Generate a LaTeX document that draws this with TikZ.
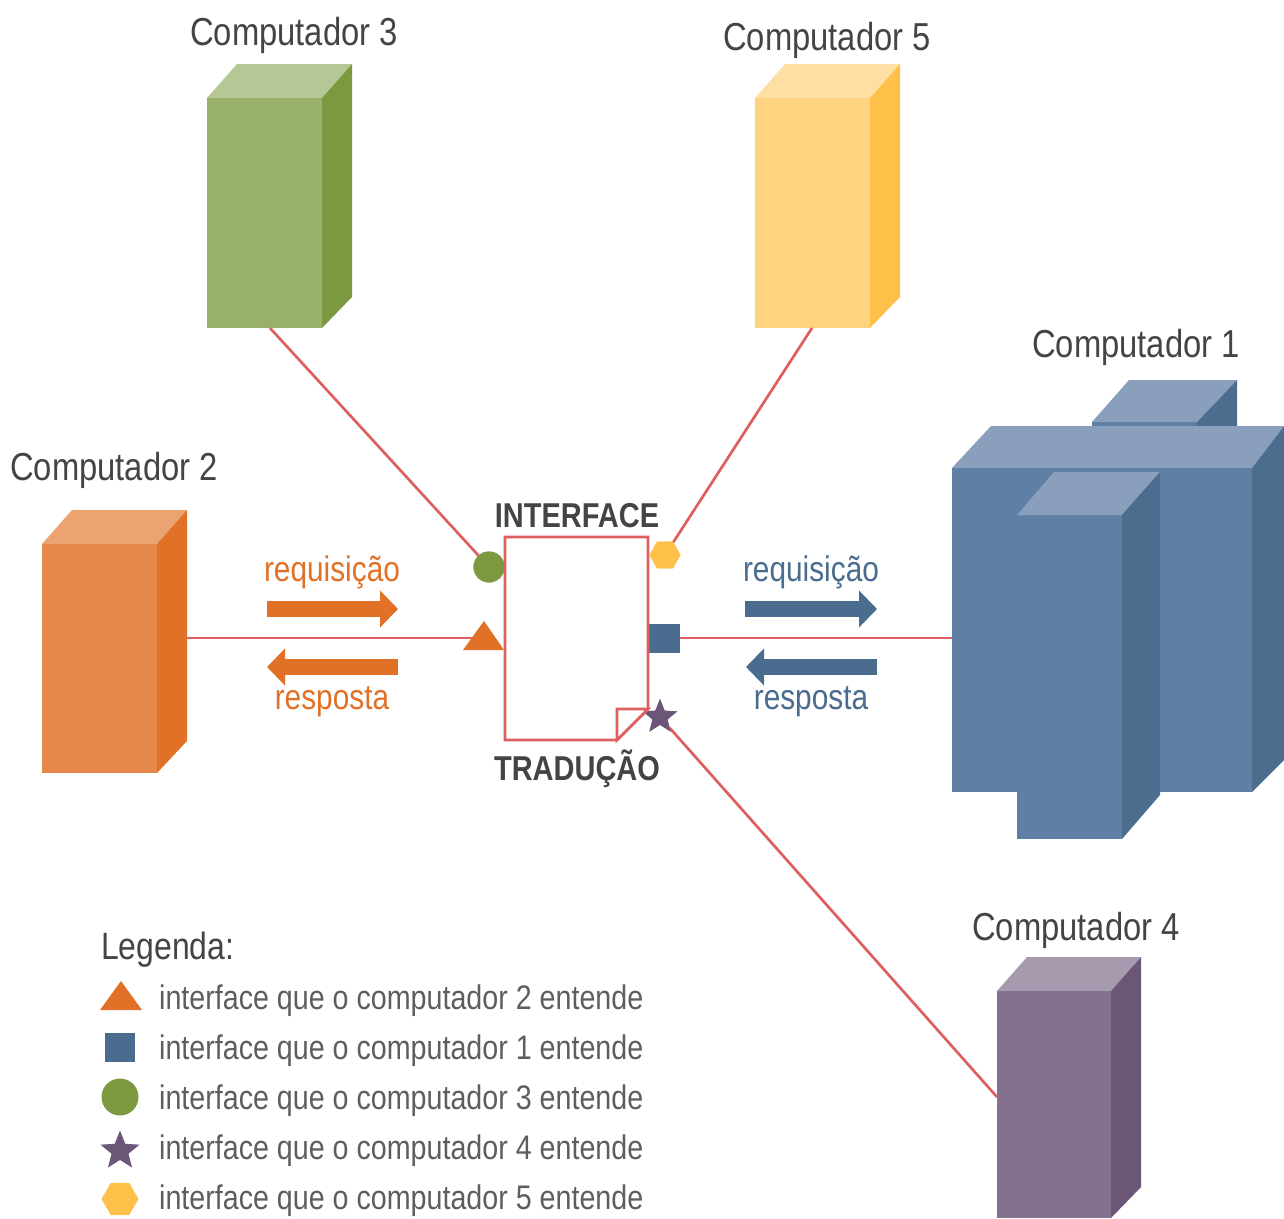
\documentclass[tikz,border=0pt]{standalone}
\usepackage{fontspec}
\setmainfont{Liberation Sans}[FakeStretch=0.84]
\usetikzlibrary{shapes.geometric,arrows.meta}
\definecolor{redline}{HTML}{DE5F5F}
\definecolor{ctext}{HTML}{444444}
\definecolor{ltext}{HTML}{5E5E5E}
\definecolor{symorange}{HTML}{E07126}
\definecolor{symblue}{HTML}{4A6C8F}
\definecolor{symgreen}{HTML}{7B9A40}
\definecolor{sympurple}{HTML}{6B5678}
\definecolor{symyellow}{HTML}{FFC04A}
\definecolor{bluefront}{HTML}{5F7FA5}
\definecolor{bluetop}{HTML}{8A9FBB}
\definecolor{blueside}{HTML}{4D6D8E}
\newcommand{\towerbox}[9]{% name, x, y, w, h, side drop, front, top, side
  \fill[#8] (#2,#3) -- ++(30,-34) -- ++(#4,0) -- ++(-30,34) -- cycle;
  \fill[#9] (#2+#4,#3) -- ++(30,-34) -- (#2+#4+30,#3+#5+#6) -- (#2+#4,#3+#5) -- cycle;
  \node[fill=#7,minimum width=#4 pt,minimum height=#5 pt,inner sep=0pt,anchor=north west] (#1) at (#2,#3) {};
}
\tikzset{
  x=1pt,y=-1pt,
  conn/.style={draw=redline,line width=2.7pt},
  comptitle/.style={font=\fontsize{39}{43}\selectfont,text=ctext,anchor=base,inner sep=0pt},
  headlabel/.style={font=\fontsize{34.5}{38}\bfseries\selectfont,text=ctext,anchor=base,inner sep=0pt},
  flowlabel/.style={font=\fontsize{35.5}{40}\selectfont,anchor=base,inner sep=0pt},
  legtext/.style={font=\fontsize{34.1}{38}\selectfont,text=ltext,anchor=base west,inner sep=0pt},
  symb/.style={inner sep=0pt,outer sep=0pt,draw=none},
  hexsym/.style={symb,fill=symyellow,regular polygon,regular polygon sides=6,minimum size=#1},
  starsym/.style={symb,fill=sympurple,star,star points=5,star point ratio=2.3,minimum size=#1},
  flowarrow/.style={line width=16pt,-{Triangle[length=18pt,width=36pt]},draw=#1},
}
\begin{document}
\begin{tikzpicture}
\useasboundingbox (0,0) rectangle (1284,1218);
% computers
\towerbox{cthree}{207}{98}{115}{230}{-31}{symgreen!78!white}{symgreen!55!white}{symgreen}
\towerbox{cfive}{755}{98}{115}{230}{-31}{symyellow!70!white}{symyellow!50!white}{symyellow}
\towerbox{ctwo}{42}{544}{115}{229}{-32}{symorange!84!white}{symorange!65!white}{symorange}
\towerbox{cfour}{997}{991}{114}{227}{-31}{sympurple!84!white}{sympurple!60!white}{sympurple}
% computer 1
\fill[bluetop] (1129,380) -- (1237,380) -- (1197,422) -- (1092,422) -- cycle;
\fill[blueside] (1237,380) -- (1237,427) -- (1197,427) -- (1197,422) -- cycle;
\fill[bluefront] (1092,422) rectangle (1197,427);
\fill[bluetop] (991,426) -- (1284,426) -- (1252,468) -- (952,468) -- cycle;
\fill[blueside] (1252,468) -- (1284,426) -- (1284,760) -- (1252,792) -- cycle;
\node[fill=bluefront,minimum width=300pt,minimum height=324pt,inner sep=0pt,anchor=north west] (cone) at (952,468) {};
\fill[bluefront] (1017,515) rectangle (1122,839);
\fill[bluetop] (1054,472) -- (1160,472) -- (1122,515) -- (1017,515) -- cycle;
\fill[blueside] (1160,472) -- (1160,795) -- (1122,839) -- (1122,515) -- cycle;
% titles
\node[comptitle] (tthree) at (294,45) {Computador 3};
\node[comptitle] (tfive) at (827,50) {Computador 5};
\node[comptitle] (tone) at (1136,357) {Computador 1};
\node[comptitle] (ttwo) at (114,480) {Computador 2};
\node[comptitle] (tfour) at (1076,940) {Computador 4};
% anchors on the computers
\coordinate (pthree) at (270,328);
\coordinate (pfive) at (812,328);
\coordinate (ptwo) at (187,638);
\coordinate (pone) at (952,638);
\coordinate (pfour) at (997,1097);
% symbols' positions
\coordinate (stri) at (484,638);
\node[symb,fill=symblue,minimum width=31pt,minimum height=29pt] (ssq) at (664.5,638) {};
\node[symb,fill=symgreen,circle,minimum size=31pt] (scirc) at (489,567) {};
\node[starsym=36pt] (sstar) at (660,717) {};
\node[hexsym=31pt] (shex) at (665,555) {};
% connectors
\draw[conn] (pthree) -- (scirc);
\draw[conn] (pfive) -- (shex);
\draw[conn] (ptwo) -- (stri);
\draw[conn] (ssq) -- (pone);
\draw[conn] (pfour) -- (sstar);
% redraw symbols above the connectors
\fill[symorange] (463,650) -- (484,621) -- (504,650) -- cycle;
\node[symb,fill=symblue,minimum width=31pt,minimum height=29pt] at (ssq) {};
\node[symb,fill=symgreen,circle,minimum size=31pt] at (scirc) {};
\node[starsym=36pt] at (sstar) {};
\node[hexsym=31pt] at (shex) {};
% document
\node[minimum width=143pt,minimum height=203pt,inner sep=0pt] (iface) at (576.5,638.5) {};
\draw[conn,fill=white] (505,537) -- (648,537) -- (648,709) -- (617,740) -- (505,740) -- cycle;
\draw[conn,fill=white] (617,740) -- (617,709) -- (648,709) -- cycle;
\node[headlabel] (lint) at (577,527) {INTERFACE};
\node[headlabel] (ltra) at (577,780) {TRADUÇÃO};
% arrows
\coordinate (oa) at (267,609); \coordinate (ob) at (398,609);
\coordinate (oc) at (398,667); \coordinate (od) at (267,667);
\coordinate (ba) at (745,609); \coordinate (bb) at (877,609);
\coordinate (bc) at (877,667); \coordinate (bd) at (746,667);
\draw[flowarrow=symorange] (oa) -- (ob);
\draw[flowarrow=symorange] (oc) -- (od);
\draw[flowarrow=symblue] (ba) -- (bb);
\draw[flowarrow=symblue] (bc) -- (bd);
\node[flowlabel,text=symorange] (rq1) at (332,581) {requisição};
\node[flowlabel,text=symorange] (rs1) at (332,709) {resposta};
\node[flowlabel,text=symblue] (rq2) at (811,581) {requisição};
\node[flowlabel,text=symblue] (rs2) at (811,709) {resposta};
% legend
\node[font=\fontsize{38}{42}\selectfont,text=ctext,anchor=base west,inner sep=0pt] (leg) at (101,959) {Legenda:};
\fill[symorange] (100,1010) -- (121,981) -- (142,1010) -- cycle;
\node[symb,fill=symblue,minimum width=30pt,minimum height=29pt] (l1) at (120,1047.5) {};
\node[symb,fill=symgreen,circle,minimum size=37pt] (l3) at (120,1097) {};
\node[starsym=41pt] (l4) at (120,1151) {};
\node[hexsym=37pt] (l5) at (120,1199) {};
\node[legtext] (t2) at (159,1009) {interface que o computador 2 entende};
\node[legtext] (t1) at (159,1059) {interface que o computador 1 entende};
\node[legtext] (t3) at (159,1109) {interface que o computador 3 entende};
\node[legtext] (t4) at (159,1159) {interface que o computador 4 entende};
\node[legtext] (t5) at (159,1209) {interface que o computador 5 entende};
\end{tikzpicture}
\end{document}
